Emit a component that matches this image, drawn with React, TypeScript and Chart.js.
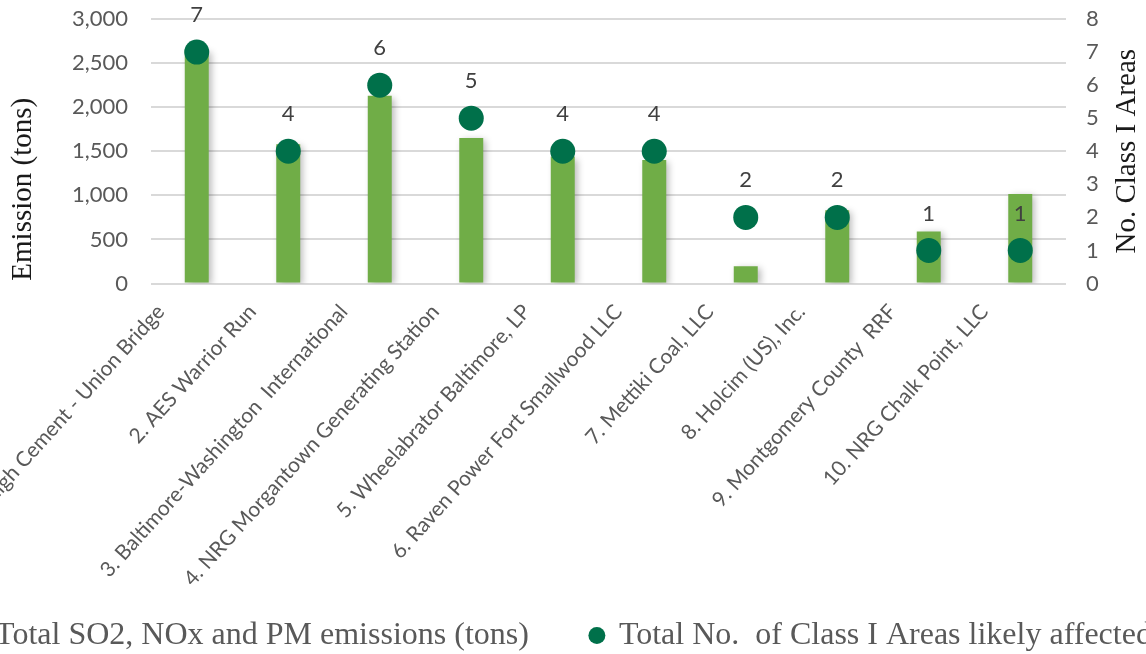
import React, { useEffect, useRef } from 'react';
import { Chart, registerables } from 'chart.js';

Chart.register(...registerables);

const categories = [
  '1. Lehigh Cement - Union Bridge',
  '2. AES Warrior Run',
  '3. Baltimore-Washington  International',
  '4. NRG Morgantown Generating Station',
  '5. Wheelabrator Baltimore, LP',
  '6. Raven Power Fort Smallwood LLC',
  '7. Mettiki Coal, LLC',
  '8. Holcim (US), Inc.',
  '9. Montgomery County  RRF',
  '10. NRG Chalk Point, LLC',
];
const emissions = [2650, 1580, 2130, 1650, 1440, 1400, 195, 830, 590, 1015];
const classIAreas = [7, 4, 6, 5, 4, 4, 2, 2, 1, 1];
const emissionLabel = 'Total SO2, NOx and PM emissions (tons)';
const areasLabel = 'Total No.  of Class I Areas likely affected';
const leftTitle = 'Emission (tons)';
const rightTitle = 'No. Class I Areas';

const OFF_X = 150;
const CW = 1419;
const CH = 680;

export default function App() {
  const ref = useRef<HTMLCanvasElement | null>(null);
  useEffect(() => {
    if (!ref.current) return;
    const extras = {
      id: 'extras',
      afterLayout(chart: any) {
        // let the rotated category labels extend past the axis box (no clipping)
        chart.scales.x.bottom = chart.height;
      },
      beforeDatasetDraw(chart: any, args: any) {
        if (args.index === 0) {
          const ctx = chart.ctx;
          ctx.save();
          ctx.shadowColor = 'rgba(0,0,0,0.28)';
          ctx.shadowBlur = 7;
          ctx.shadowOffsetX = 3;
          ctx.shadowOffsetY = 2;
        }
      },
      afterDatasetDraw(chart: any, args: any) {
        if (args.index === 0) chart.ctx.restore();
      },
      afterDatasetsDraw(chart: any) {
        const ctx = chart.ctx;
        const meta = chart.getDatasetMeta(1);
        ctx.save();
        ctx.font = '22px Lato';
        ctx.fillStyle = '#404040';
        ctx.textAlign = 'center';
        ctx.textBaseline = 'middle';
        meta.data.forEach((el: any, i: number) => {
          ctx.fillText(String(classIAreas[i]), el.x, el.y - 37);
        });
        ctx.restore();
      },
      afterDraw(chart: any) {
        const ctx = chart.ctx;
        const a = chart.chartArea;
        const cy = (a.top + a.bottom) / 2;
        ctx.save();
        ctx.font = '29px "Liberation Serif"';
        ctx.fillStyle = '#1a1a1a';
        ctx.textAlign = 'center';
        ctx.textBaseline = 'middle';
        ctx.save();
        ctx.translate(a.left - 128, cy + 38);
        ctx.rotate(-Math.PI / 2);
        ctx.fillText(leftTitle, 0, 0);
        ctx.restore();
        ctx.save();
        ctx.translate(a.right + 61, cy);
        ctx.rotate(-Math.PI / 2);
        ctx.fillText(rightTitle, 0, 0);
        ctx.restore();
        ctx.restore();
      },
    };

    const chart = new Chart(ref.current, {
      type: 'bar',
      data: {
        labels: categories,
        datasets: [
          {
            type: 'bar',
            label: emissionLabel,
            data: emissions,
            backgroundColor: '#70AD47',
            yAxisID: 'y',
            order: 2,
            categoryPercentage: 1,
            barPercentage: 0.262,
            pointStyle: 'rect',
          } as any,
          {
            type: 'line',
            label: areasLabel,
            data: classIAreas,
            yAxisID: 'y1',
            showLine: false,
            pointRadius: 12.5,
            pointBorderWidth: 0,
            pointBackgroundColor: '#00704A',
            backgroundColor: '#00704A',
            borderColor: '#00704A',
            order: 1,
            pointStyle: 'circle',
          } as any,
        ],
      },
      options: {
        responsive: false,
        animation: false,
        devicePixelRatio: 1,
        layout: { padding: { top: 19, left: 0, right: 0, bottom: 18.5 } },
        plugins: {
          tooltip: { enabled: false },
          legend: {
            position: 'bottom',
            labels: {
              usePointStyle: true,
              boxWidth: 12,
              boxHeight: 12,
              padding: 62,
              color: '#595959',
              font: { family: '"Liberation Serif"', size: 32 },
              sort: (a: any, b: any) => a.datasetIndex - b.datasetIndex,
            },
          },
        },
        scales: {
          x: {
            grid: { display: false, drawTicks: false },
            border: { display: false },
            ticks: {
              minRotation: 48,
              maxRotation: 48,
              autoSkip: false,
              padding: 16,
              labelOffset: -36,
              color: '#595959',
              font: { family: 'Lato', size: 21 },
            },
            afterFit(scale: any) {
              scale.height = 274;
              scale.paddingLeft = 0;
              scale.paddingRight = 0;
            },
          } as any,
          y: {
            position: 'left',
            min: 0,
            max: 3000,
            ticks: {
              stepSize: 500,
              padding: 23,
              color: '#595959',
              font: { family: 'Lato', size: 22 },
            },
            grid: { color: '#D9D9D9', lineWidth: 2, drawTicks: false },
            border: { display: false },
            afterFit(scale: any) {
              scale.width = OFF_X + 151;
              scale.paddingTop = 0;
              scale.paddingBottom = 0;
            },
          } as any,
          y1: {
            position: 'right',
            min: 0,
            max: 8,
            ticks: {
              stepSize: 1,
              padding: 20,
              color: '#595959',
              font: { family: 'Lato', size: 22 },
            },
            grid: { display: false, drawTicks: false },
            border: { display: false },
            afterFit(scale: any) {
              scale.width = CW - (OFF_X + 1066);
              scale.paddingTop = 0;
              scale.paddingBottom = 0;
            },
          } as any,
        },
      },
      plugins: [extras],
    });
    return () => chart.destroy();
  }, []);

  return (
    <div
      style={{
        position: 'fixed',
        left: 0,
        top: 0,
        width: 1146,
        height: 654,
        overflow: 'hidden',
        background: '#fff',
      }}
    >
      <canvas
        ref={ref}
        width={CW}
        height={CH}
        style={{ position: 'absolute', left: -OFF_X, top: 0, width: CW, height: CH, display: 'block' }}
      />
    </div>
  );
}
